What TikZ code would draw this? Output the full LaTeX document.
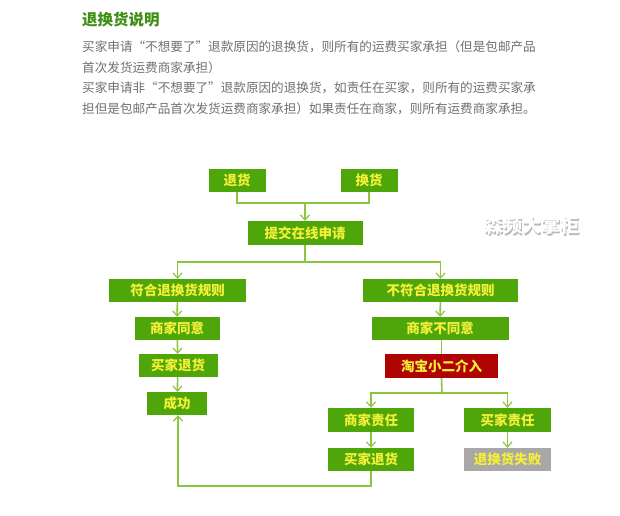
\documentclass[tikz,border=0pt]{standalone}
\usepackage{fontspec}
\setmainfont{Noto Sans CJK SC}
\newfontfamily\cjk{Noto Sans CJK SC}
\usetikzlibrary{arrows.meta}
\definecolor{boxgreen}{HTML}{4EA60A}
\definecolor{txtyellow}{HTML}{F4F03A}
\definecolor{linegreen}{HTML}{8CC63E}
\definecolor{boxred}{HTML}{B00404}
\definecolor{boxgray}{HTML}{A9A7A8}
\definecolor{bodygray}{HTML}{707070}
\definecolor{titlegreen}{HTML}{3E8E12}
\tikzset{
  flowbox/.style={fill=boxgreen, text=txtyellow, inner sep=0pt, font=\cjk\fontsize{13.5}{14}\selectfont\bfseries},
  redbox/.style={flowbox, fill=boxred},
  graybox/.style={flowbox, fill=boxgray},
  conn/.style={draw=linegreen, line width=1.6pt},
  arr/.style={conn, -{Straight Barb[length=5pt,width=9pt,line width=1.2pt]}},
  bodytext/.style={anchor=west, inner sep=0pt, text=bodygray, font=\cjk\fontsize{12.6}{13}\selectfont},
}
\begin{document}
\begin{tikzpicture}[x=1pt,y=-1pt]
\useasboundingbox (0,0) rectangle (620,515);
\fill[white] (0,0) rectangle (620,515);
% header
\node[anchor=west, inner sep=0pt, text=titlegreen, font=\cjk\fontsize{15.5}{16}\selectfont\bfseries] (title) at (82,20) {退换货说明};
\node[bodytext] (l1) at (82,47) {买家申请“不想要了”退款原因的退换货，则所有的运费买家承担（但是包邮产品};
\node[bodytext] (l2) at (82,67.5) {首次发货运费商家承担）};
\node[bodytext] (l3) at (82,88) {买家申请非“不想要了”退款原因的退换货，如责任在买家，则所有的运费买家承};
\node[bodytext] (l4) at (82,108.5) {担但是包邮产品首次发货运费商家承担）如果责任在商家，则所有运费商家承担。};
% watermark
\node[text=gray!55, font=\cjk\fontsize{19}{20}\selectfont\bfseries] (wm0) at (533,227) {森频大掌柜};
\node[text=white, font=\cjk\fontsize{19}{20}\selectfont\bfseries] (wm) at (531.5,225.5) {森频大掌柜};
% boxes
\node[flowbox, minimum width=57pt, minimum height=23pt] (tui) at (237,180.5) {退货};
\node[flowbox, minimum width=57pt, minimum height=23pt] (huan) at (369,180.5) {换货};
\node[flowbox, minimum width=115pt, minimum height=24pt] (submit) at (305,233) {提交在线申请};
\node[flowbox, minimum width=137pt, minimum height=23pt] (fuhe) at (177.5,290.5) {符合退换货规则};
\node[flowbox, minimum width=155pt, minimum height=23pt] (bufuhe) at (440.5,290.5) {不符合退换货规则};
\node[flowbox, minimum width=85pt, minimum height=23pt] (agree) at (177,328.5) {商家同意};
\node[flowbox, minimum width=79pt, minimum height=23pt] (ret1) at (178,365.5) {买家退货};
\node[flowbox, minimum width=60pt, minimum height=23pt] (succ) at (177,403.5) {成功};
\node[flowbox, minimum width=137pt, minimum height=23pt] (disagree) at (440,328.5) {商家不同意};
\node[redbox, minimum width=113pt, minimum height=24pt] (taobao) at (441.5,366) {淘宝小二介入};
\node[flowbox, minimum width=86pt, minimum height=24pt] (merchant) at (371,420) {商家责任};
\node[flowbox, minimum width=87pt, minimum height=24pt] (buyer) at (507.5,420) {买家责任};
\node[flowbox, minimum width=86pt, minimum height=23pt] (ret2) at (371,459.5) {买家退货};
\node[graybox, minimum width=87pt, minimum height=23pt] (fail) at (507.5,459.5) {退换货失败};
% junction coordinates
\coordinate (j1) at (305,203);
\coordinate (j2) at (305,262);
\coordinate (j3) at (442,393);
\coordinate (j4) at (178,486);
% connectors
\draw[conn] (tui.south) |- (j1) -| (huan.south);
\draw[arr] (j1) -- (submit.north);
\draw[conn] (submit.south) -- (j2);
\draw[arr] (j2) -| (fuhe.north);
\draw[arr] (j2) -| (bufuhe.north);
\draw[arr] (fuhe) -- (agree);
\draw[arr] (agree) -- (ret1);
\draw[arr] (ret1) -- (succ);
\draw[arr] (bufuhe) -- (disagree);
\draw[conn] (disagree.south -| taobao.north) -- (taobao.north);
\draw[conn] (taobao.south) -- (j3);
\draw[arr] (j3) -| (merchant.north);
\draw[arr] (j3) -| (buyer.north);
\draw[arr] (merchant) -- (ret2);
\draw[arr] (buyer) -- (fail);
\draw[arr] (ret2.south) |- (j4) -- (j4 |- succ.south);
\end{tikzpicture}
\end{document}
